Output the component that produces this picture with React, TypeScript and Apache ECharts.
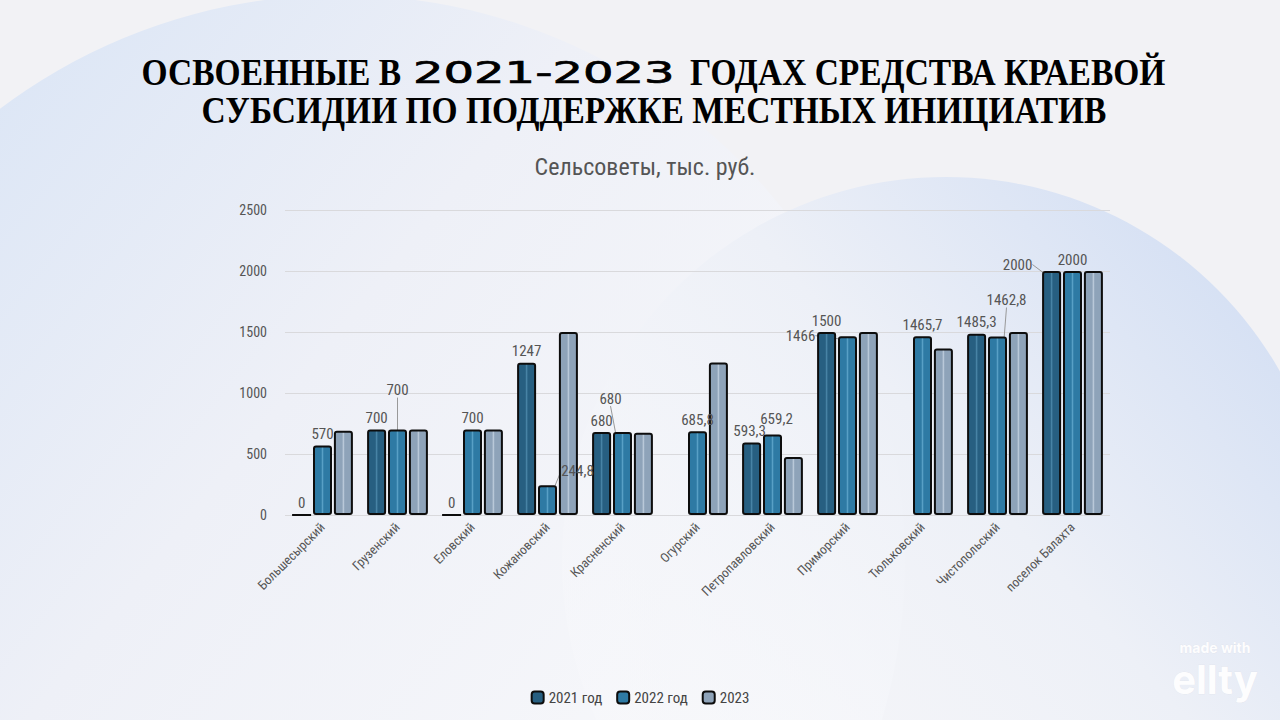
import React, { useEffect, useRef } from "react";
import * as echarts from "echarts";

const categories = [
  "Большесырский",
  "Грузенский",
  "Еловский",
  "Кожановский",
  "Красненский",
  "Огурский",
  "Петропавловский",
  "Приморский",
  "Тюльковский",
  "Чистопольский",
  "поселок Балахта",
];

const seriesNames = ["2021 год", "2022 год", "2023"];

const values2021: (number | null)[] = [0, 700, 0, 1247, 680, null, 593.3, 1500, null, 1485.3, 2000];
const values2022: (number | null)[] = [570, 700, 700, 244.8, 680, 685.8, 659.2, 1466, 1465.7, 1462.8, 2000];
const values2023: (number | null)[] = [690, 700, 700, 1500, 675, 1250, 475, 1500, 1365, 1500, 2000];

const yTicks = { min: 0, max: 2500, interval: 500 };

const titleLine1a = "ОСВОЕННЫЕ В";
const titleYears = "2021-2023";
const titleLine1b = "ГОДАХ СРЕДСТВА КРАЕВОЙ";
const titleLine2 = "СУБСИДИИ ПО ПОДДЕРЖКЕ МЕСТНЫХ ИНИЦИАТИВ";
const subtitle = "Сельсоветы, тыс. руб.";

// label shifts (styling only): "seriesIndex-dataIndex" -> [dx, dy]
const labelShifts: Record<string, [number, number]> = {
  "1-1": [0, -28],
  "1-3": [30, -3],
  "1-4": [-12, -22],
  "1-7": [-47, 11],
  "1-9": [9, -25],
  "0-10": [-34, 5],
};
const plainShifts: Record<string, [number, number]> = {
  "0-6": [-2, 0],
  "1-6": [4, -4],
};

const baseColors = ["#275f81", "#2e7aa4", "#8ea3b9"];
const lightColors = ["#4a86a8", "#58a0c6", "#bccbdb"];

const condensed = "'Liberation Sans Narrow', 'Roboto Condensed', Roboto, 'DejaVu Sans Condensed', sans-serif";
const serif = "'Liberation Serif', 'DejaVu Serif', serif";

function fmt(v: number) {
  return String(v).replace(".", ",");
}

export default function App() {
  const ref = useRef<HTMLDivElement>(null);

  useEffect(() => {
    if (!ref.current) return;
    const chart = echarts.init(ref.current, undefined, { renderer: "svg" });

    const allValues = [values2021, values2022, values2023];

    const series = allValues.map((vals, si) => ({
      name: seriesNames[si],
      type: "bar",
      barWidth: 19,
      barGap: "10%",
      data: vals.map((v, di) => {
        const key = `${si}-${di}`;
        if (labelShifts[key]) {
          return { value: v, labelLine: { show: true } };
        }
        return v;
      }),
      itemStyle: {
        color: new echarts.graphic.LinearGradient(0, 0, 1, 0, [
          { offset: 0, color: baseColors[si] },
          { offset: 0.42, color: baseColors[si] },
          { offset: 0.5, color: lightColors[si] },
          { offset: 0.58, color: baseColors[si] },
          { offset: 1, color: baseColors[si] },
        ]),
        borderColor: "#0d0d0d",
        borderWidth: 2,
        borderRadius: 2,
      },
      label: {
        show: si < 2,
        position: "top",
        distance: 4,
        color: "#555",
        fontSize: 15,
        fontFamily: condensed,
        formatter: (p: any) => fmt(p.value),
      },
      labelLine: {
        show: false,
        lineStyle: { color: "#999", width: 1 },
      },
      labelLayout: (p: any) => {
        const key = `${si}-${p.dataIndex}`;
        const s = labelShifts[key] || plainShifts[key];
        if (s) return { dx: s[0], dy: s[1] };
        return {};
      },
    }));

    const titleStyle = {
      fontFamily: serif,
      fontWeight: "bold",
      fontSize: 33.5,
      fill: "#000",
      verticalAlign: "middle",
    };

    chart.setOption({
      animation: false,
      backgroundColor: "#f2f2f5",
      graphic: [
        {
          type: "circle",
          z: -10,
          silent: true,
          shape: { cx: 340, cy: 560, r: 565 },
          style: {
            fill: new echarts.graphic.LinearGradient(0, 0, 1, 0.8, [
              { offset: 0, color: "#d3e1f5" },
              { offset: 0.45, color: "#eef0f7" },
              { offset: 1, color: "#fbfbfc" },
            ]),
          },
        },
        {
          type: "circle",
          z: -9,
          silent: true,
          shape: { cx: 946, cy: 561, r: 384 },
          style: {
            fill: new echarts.graphic.LinearGradient(1, 0.1, 0.1, 0.9, [
              { offset: 0, color: "#cfdcf3" },
              { offset: 0.45, color: "#edf0f7" },
              { offset: 1, color: "rgba(250,250,252,0.3)" },
            ]),
          },
        },
        {
          type: "text",
          x: 401,
          y: 73,
          silent: true,
          scaleY: 1.1,
          style: { ...titleStyle, text: titleLine1a, align: "right" },
        },
        {
          type: "text",
          x: 413,
          y: 73,
          silent: true,
          scaleX: 1.6,
          style: {
            text: titleYears,
            fontFamily: "'DejaVu Sans', sans-serif",
            fontWeight: "normal",
            fontSize: 30,
            fill: "#000",
            stroke: "#000",
            lineWidth: 0.7,
            verticalAlign: "middle",
            align: "left",
          },
        },
        {
          type: "text",
          x: 690,
          y: 73,
          silent: true,
          scaleY: 1.1,
          style: { ...titleStyle, text: titleLine1b, align: "left" },
        },
        {
          type: "text",
          x: 654,
          y: 111,
          silent: true,
          scaleY: 1.1,
          style: { ...titleStyle, text: titleLine2, align: "center" },
        },
        {
          type: "text",
          x: 1215,
          y: 647,
          silent: true,
          style: {
            text: "made with",
            fill: "#fdfdfe",
            fontSize: 14,
            fontWeight: "bold",
            fontFamily: "Inter, 'Open Sans', sans-serif",
            align: "center",
            verticalAlign: "middle",
            stroke: "rgba(215,215,222,0.6)",
            lineWidth: 0.4,
          },
        },
        {
          type: "text",
          x: 1215,
          y: 679,
          silent: true,
          style: {
            text: "ellty",
            fill: "#fdfdfe",
            fontSize: 40,
            fontWeight: "bold",
            fontFamily: "Inter, 'Open Sans', sans-serif",
            align: "center",
            verticalAlign: "middle",
            stroke: "rgba(215,215,222,0.6)",
            lineWidth: 0.4,
          },
        },
      ],
      title: {
        left: 640,
        top: 150,
        textAlign: "center",
        text: subtitle,
        textStyle: {
          fontFamily: condensed,
          fontWeight: "normal",
          fontSize: 24,
          color: "#555",
        },
      },
      legend: {
        bottom: 10,
        left: "center",
        itemWidth: 12,
        itemHeight: 12,
        itemGap: 14,
        icon: "roundRect",
        textStyle: { color: "#444", fontSize: 15, fontFamily: condensed },
        data: seriesNames.map((n, i) => ({
          name: n,
          itemStyle: { color: baseColors[i], borderColor: "#0d0d0d", borderWidth: 2 },
        })),
      },
      grid: { left: 285, right: 170, top: 210, bottom: 205 },
      xAxis: {
        type: "category",
        data: categories,
        axisLine: { show: false },
        axisTick: { show: false },
        axisLabel: {
          rotate: 45,
          interval: 0,
          color: "#555",
          fontSize: 13,
          fontFamily: condensed,
          margin: 10,
        },
      },
      yAxis: {
        type: "value",
        min: yTicks.min,
        max: yTicks.max,
        interval: yTicks.interval,
        axisLine: { show: false },
        axisTick: { show: false },
        axisLabel: {
          color: "#555",
          fontSize: 14,
          fontFamily: condensed,
          margin: 18,
          formatter: (v: number) => String(v),
        },
        splitLine: { lineStyle: { color: "#d9d9dc", width: 1 } },
      },
      series,
    });

    return () => chart.dispose();
  }, []);

  return (
    <div
      ref={ref}
      style={{ position: "absolute", left: 0, top: 0, width: 1280, height: 720 }}
    />
  );
}
